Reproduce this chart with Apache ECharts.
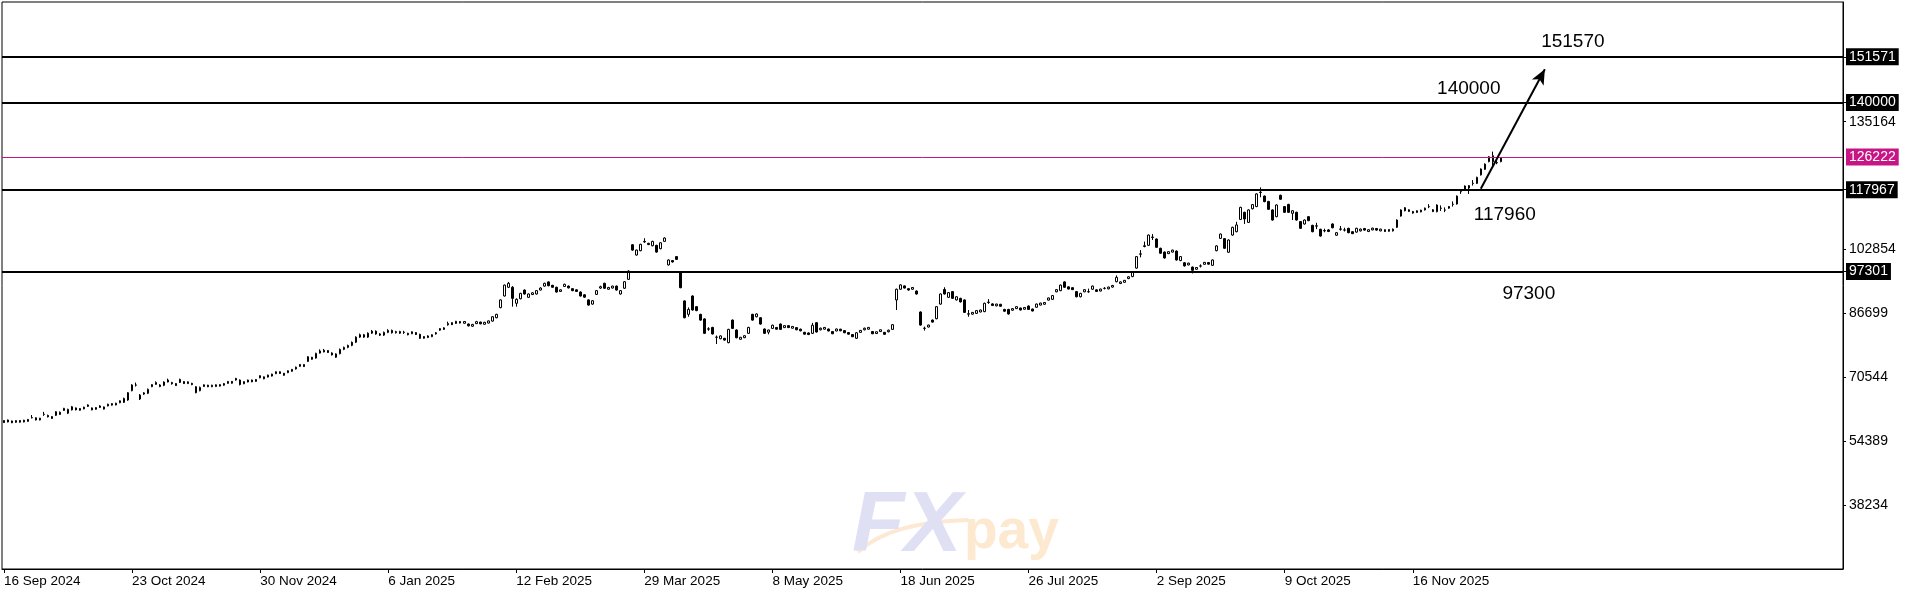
<!DOCTYPE html>
<html><head><meta charset="utf-8">
<script src="https://cdn.jsdelivr.net/npm/echarts@6/dist/echarts.min.js"></script>
<style>html,body{margin:0;padding:0;background:#fff}#c{width:1920px;height:596px}</style>
</head><body><div id="c"></div>
<script>
// ---- data ----
const tickLabels = ['16 Sep 2024','23 Oct 2024','30 Nov 2024','6 Jan 2025','12 Feb 2025','29 Mar 2025','8 May 2025','18 Jun 2025','26 Jul 2025','2 Sep 2025','9 Oct 2025','16 Nov 2025'];
const barsPerLabel = 32;
const slotCount = 460;
// [open, close, low, high]
const ohlc = [
[59600,59100,59000,59700],[59750,59250,59150,59850],[59500,59050,58950,59600],[59150,59600,59050,59700],[59600,59200,59100,59700],
[59250,59700,59150,59800],[59400,59900,59300,60000],[60300,60350,60150,61000],[60300,59750,59650,60400],[59750,60200,59650,60300],
[61150,61200,60800,61800],[60900,60550,60400,61100],[60600,60150,60050,60700],[60925,61852,60750,62000],[61150,61700,61050,61900],
[62150,62700,62050,62800],[61450,62450,61250,62600],[62300,63100,62150,63300],[62800,62300,62200,62900],[62200,62650,62100,62750],
[62550,63000,62450,63100],[63550,63200,63050,63700],[62800,62300,62200,62900],[62450,62900,62350,63000],[62900,63300,62800,63500],
[63050,62500,62400,63150],[63300,63750,63200,63850],[63500,63900,63400,64000],[63550,64000,63450,64100],[64100,64600,64000,64700],
[64200,65200,64050,65400],[64800,66650,64600,66800],[67150,68600,67000,68800],[68550,68600,68200,69200],[66050,65050,64800,66300],
[66300,66600,66100,66800],[66500,67500,66300,67700],[68150,68700,68050,68800],[68750,69250,68650,69500],[68600,68200,68050,68800],
[68500,69350,68300,69500],[69350,69850,69250,70200],[69200,68900,68700,69400],[68950,68450,68350,69050],[70000,69250,69100,70200],
[69450,68950,68850,69550],[68950,69400,68850,69500],[69000,68700,68550,69150],[68150,66650,66500,68300],[67150,68000,67000,68200],
[68200,68650,68100,68750],[68550,68150,68050,68650],[68150,68550,68050,68650],[68200,68650,68100,68750],[68300,68700,68200,68800],
[68550,68950,68400,69100],[69000,69500,68900,69600],[69500,69050,68950,69600],[70250,69850,69700,70400],[69850,68700,68500,70000],
[68900,69450,68800,69550],[69350,69850,69250,69950],[69850,69400,69300,69950],[69500,70000,69400,70100],[70400,70950,70300,71050],
[70650,70150,70050,70750],[70600,71100,70500,71200],[70850,71350,70750,71450],[71450,71950,71350,72050],[71950,71500,71400,72050],
[71550,71050,70950,71650],[71700,72200,71600,72300],[72050,72550,71950,72650],[72650,73100,72500,73250],[73300,73800,73200,73900],
[73750,73250,73150,73850],[74550,75750,74400,75900],[75600,75100,75000,75700],[75400,76600,75250,76750],[76650,77200,76550,77600],
[76950,77400,76850,77700],[77300,76800,76700,77400],[76700,76200,76050,76850],[75600,76450,75450,76600],[76500,77600,76350,77800],
[77600,78100,77400,78300],[78100,78600,77900,78800],[78600,79400,78400,79600],[79400,80700,79200,80900],[80700,81300,80500,81600],
[81300,80700,80500,81500],[80700,81700,80500,81900],[81700,82200,81500,82500],[82200,81500,81300,82400],[81500,81200,81000,81700],
[81200,81900,81000,82100],[81900,82400,81700,82700],[82400,81800,81600,82600],[81800,82100,81600,82300],[82100,81700,81500,82300],
[81850,81950,81500,82300],[81650,81300,81150,81800],[81550,82050,81450,82150],[81850,81350,81250,81950],[81400,80400,80250,81550],
[80400,80850,80300,80950],[80600,81000,80450,81150],[80800,81300,80700,81400],[81500,81800,81350,82000],[82450,82850,82300,83000],
[82650,83050,82500,83200],[83800,84150,83600,84600],[84350,83850,83750,84450],[84150,84700,84050,84800],[84650,84250,84150,84750],
[84200,84650,84100,84750],[84000,83550,83400,84150],[83450,83900,83300,84050],[84100,84600,84000,84800],[84500,84050,83950,84600],
[83950,84450,83850,84550],[84250,84800,84150,84900],[84750,85850,84600,86000],[85600,86450,85450,86600],[88150,90100,88000,90250],
[91100,93850,90950,94000],[93300,94300,93100,94650],[93300,90500,88400,93600],[89250,90250,88400,90500],[90400,91750,90250,91900],
[92600,91600,91450,92750],[90750,91600,90600,91750],[91450,91900,91350,92050],[91600,92450,91450,92600],[92600,93100,92500,93300],
[93600,94300,93450,94450],[94650,93700,93550,94800],[93800,93300,93200,93900],[93300,92100,91950,93450],[92250,92650,92100,92800],
[93500,94050,93400,94200],[93600,93150,93000,93750],[92950,92450,92300,93100],[92650,92250,92100,92800],[92100,91100,90950,92250],
[91400,90800,90650,91550],[90100,88800,88650,90250],[89050,89900,88900,90050],[91500,92450,91350,92600],[93100,93450,92900,93700],
[94300,93050,92900,94450],[92800,93250,92650,93400],[93100,93600,93000,93700],[93600,92600,92450,93750],[91600,92450,91450,92600],
[93050,94700,92900,94850],[95300,97400,95150,97600],[104050,102700,102550,104200],[101450,102700,101300,102850],[102550,104150,102400,104300],
[104750,104900,104550,105700],[104400,104100,103950,104550],[103800,104900,103650,105050],[103900,102200,102050,104050],[103050,104550,102900,104700],
[104900,105750,104750,105900],[98950,100200,98800,100350],[100050,99700,99550,100200],[101050,100350,100200,101200],[97250,93200,93050,97400],
[89850,85600,85450,90000],[86450,87700,85850,88200],[91100,87550,87400,91250],[88400,87400,87250,88550],[86450,85000,84850,86600],
[85300,81650,81500,85450],[82700,82800,82300,83200],[83150,81500,81350,83300],[80650,80700,78950,81100],[80300,81000,80150,81150],
[80400,79950,79800,80500],[79300,82650,79150,82800],[85000,82900,82750,85150],[82500,80550,80400,82650],[80150,80650,80050,80750],
[80550,81050,80450,81150],[81650,83150,81500,83300],[86450,85000,84850,86600],[85850,86550,85700,86700],[85600,84000,83850,85750],
[82750,81650,81500,82900],[81950,82500,81400,82600],[82900,83700,82750,83850],[83150,82700,82600,83250],[84000,82650,82500,84150],
[83100,83600,83000,83700],[83600,83100,83000,83700],[82950,83400,82850,83500],[83100,82550,82450,83200],[82700,82300,82150,82850],
[81900,81450,81300,82050],[81750,81350,81200,81900],[81650,83700,81500,84300],[84350,82000,81850,84500],[82550,82950,82400,83100],
[82700,83150,82600,83250],[82750,82250,82150,82850],[82100,81550,81450,82200],[82250,82750,82150,82850],[82700,82300,82200,82800],
[82350,81800,81700,82450],[81850,81450,81300,82000],[81350,80800,80700,81450],[80400,81800,80250,81950],[81900,82400,81800,82500],
[82550,82950,82400,83100],[82700,83150,82600,83250],[82100,81550,81450,82200],[81600,82050,81500,82150],[82100,82550,82000,82650],
[81900,81400,81300,82000],[82050,82450,81900,82600],[82650,83850,82500,84000],[90100,92800,87550,92950],[92800,93900,92650,94050],
[93650,93100,93000,93750],[92950,92600,92450,93100],[92800,93250,92700,93350],[92350,91600,91450,92500],[87050,83750,83600,87200],
[82900,82950,82350,83350],[83250,83750,83150,83850],[85000,84500,84350,85150],[85350,88400,85200,88550],[89050,91600,88900,91750],
[92750,91600,91450,93300],[90750,91950,90600,92100],[92200,90500,90350,92350],[90100,90900,89950,91050],[90500,89600,89450,90650],
[90100,86950,86800,90250],[86500,86600,85850,87550],[86500,86950,86400,87050],[86700,87400,86550,87550],[87050,87550,86950,87650],
[87150,89250,87000,89400],[89450,89550,89100,90300],[89100,88700,88550,89250],[88600,89050,88500,89150],[89000,88500,88400,89100],
[87700,87250,87100,87850],[87700,86550,86400,87850],[87500,87900,87350,88050],[87900,88400,87800,88500],[88050,87550,87450,88150],
[87750,88200,87650,88300],[88550,87700,87550,88700],[87800,87300,87200,87900],[88250,89050,88100,89200],[88800,89300,88700,89400],
[89000,89450,88900,89550],[90050,90600,89950,90700],[90250,91200,90100,91350],[92150,92700,92050,92850],[92450,93850,92300,94000],
[94650,93300,93150,94800],[93400,92850,92750,93500],[93200,92700,92600,93300],[92200,90900,90750,92350],[90900,91750,90750,91900],
[92150,92700,92050,92800],[92150,92200,91900,92950],[92800,93600,92650,93750],[92650,92250,92100,92800],[92350,92850,92250,92950],
[93000,93050,92750,93350],[92900,93350,92800,93450],[93350,93750,93200,93900],[94700,95800,94550,96300],[94250,94650,94100,94800],
[94550,95050,94450,95150],[95500,95950,95350,96100],[96000,97250,95850,97400],[98150,101050,98000,101200],[101650,101750,100850,102700],
[103600,103800,103400,104850],[103900,106500,103750,106650],[106000,105900,105250,106750],[105500,103400,103250,105650],[103150,101900,101750,103300],
[102200,100700,100550,102350],[101800,102300,101700,102400],[102200,102700,102100,102800],[102450,100200,100050,102600],[100050,101050,99900,101200],
[99500,98700,98550,99650],[98950,99400,98850,99500],[98400,97600,96800,98550],[97850,98300,97750,98400],[98650,98700,98300,99100],
[99100,99600,99000,99700],[99550,99150,99000,99700],[98850,100200,98700,100350],[102550,103750,102400,103900],[105650,106750,105500,106900],
[105600,103150,103000,105750],[102150,105250,102000,105400],[106500,108450,106350,108600],[107350,109050,107200,109850],[110450,113500,110300,113650],
[112250,110550,109300,112400],[109700,112850,109550,113000],[113150,114200,113000,114350],[113700,116900,113550,117050],[117250,117350,116050,118550],
[116350,114950,114800,116500],[115000,113000,112850,115150],[112850,110300,110150,113000],[111150,114100,111000,114250],[116550,115550,115400,116700],
[113700,112250,112100,113850],[114250,112250,112100,114400],[112000,112650,110300,112800],[112250,110300,110150,112400],[109900,108200,108050,110050],
[109300,110300,109150,110450],[111150,110150,110000,111300],[108950,107350,107200,109100],[108750,108850,108000,109600],[107950,106250,106100,108100],
[107550,107650,107200,108100],[107800,107400,107250,108000],[109300,108350,108200,109450],[106450,107100,106300,107250],[107950,108050,107600,108800],
[107750,107800,107400,108350],[108200,107100,106950,108350],[107350,106850,106750,107450],[107250,108200,107100,108350],[107550,108000,107400,108150],
[108150,107750,107600,108300],[107400,107850,107250,108000],[107800,108250,107700,108350],[108150,107750,107600,108300],[107550,108000,107450,108100],
[107850,107400,107300,107950],[107450,107900,107350,108000],[107550,108000,107400,108150],[108450,110300,108300,110450],[111300,112850,111150,113000],
[113400,112650,112500,113550],[112450,112900,112350,113000],[112450,112050,111900,112600],[112200,112650,112100,112750],[112350,112800,112250,112900],
[112850,113300,112700,113450],[113650,113700,113300,114300],[112900,112450,112300,113050],[112400,114100,112250,114250],[113250,113300,112600,114000],
[112800,112850,112300,113500],[113700,113300,113150,113850],[114250,114300,113700,115000],[114350,116350,114200,116500],[117450,117500,116900,118100],
[117900,118900,117750,119050],[118400,119000,116900,119150],[119550,119600,119000,120400],[119550,121100,119400,121250],[121700,123200,121550,123350],
[123100,124450,122950,124600],[125050,126300,124900,126450],[126550,125050,123950,127600],[124750,124850,124400,125300],[125050,126000,124900,126150]
];
const levelLines = [151571, 140000, 117967, 97301];
const priceLine = 126222;
const yTickValues = [38234, 54389, 70544, 86699, 102854, 135164];
const yMin = 22079, yMax = 165416;
const noteTexts = ['151570', '140000', '117960', '97300'];
const noteBars = [392, 366, 375, 381];
const noteValues = [155430, 143550, 111700, 91600];
const arrowStart = [369, 118200];
const arrowEnd = [385, 148400];

// ---- chart ----
const FONT = '"Liberation Sans", Arial, sans-serif';
const categories = Array.from({length: slotCount}, (_, i) => String(i));
const showTick = (i) => i % barsPerLabel === 0 && (i / barsPerLabel) < tickLabels.length;

const chart = echarts.init(document.getElementById('c'), null, {renderer: 'canvas'});
const boxLabel = (bg) => ({
  show: true, position: 'end', distance: 3, formatter: (p) => String(p.value),
  color: '#fff', backgroundColor: bg, padding: [2, 3, 1, 3], fontSize: 14, fontFamily: FONT
});
chart.setOption({
  animation: false,
  backgroundColor: '#fff',
  grid: {left: 2, right: 77, top: 2, bottom: 27, show: true, borderColor: '#000', borderWidth: 1, backgroundColor: '#fff'},
  xAxis: {
    type: 'category', data: categories, boundaryGap: true,
    axisLine: {show: true, lineStyle: {color: '#000', width: 1}},
    axisTick: {show: true, alignWithLabel: true, interval: (i) => showTick(i), length: 4, lineStyle: {color: '#000'}},
    axisLabel: {interval: (i) => showTick(i), formatter: (v, i) => tickLabels[i / barsPerLabel] || '',
      align: 'left', color: '#000', fontSize: 13.5, fontFamily: FONT, margin: 5},
    splitLine: {show: false}
  },
  yAxis: {
    type: 'value', position: 'right', min: yMin, max: yMax, scale: true,
    axisLine: {show: true, lineStyle: {color: '#000'}},
    axisTick: {show: true, customValues: yTickValues.concat(levelLines), length: 3, lineStyle: {color: '#000'}},
    axisLabel: {customValues: yTickValues, formatter: (v) => String(v), color: '#000', fontSize: 14, fontFamily: FONT, margin: 6},
    splitLine: {show: false}
  },
  graphic: [
    {type: 'bezierCurve', z: 1, silent: true,
     shape: {x1: 858, y1: 552, cpx1: 890, cpy1: 522, x2: 968, y2: 520},
     style: {stroke: '#fde9d3', lineWidth: 4, fill: null}},
    {type: 'text', left: 852, top: 484, z: 1, silent: true,
     style: {text: 'FX', font: 'italic bold 86px "Liberation Sans", Arial, sans-serif', fill: '#dfe0f3'}},
    {type: 'text', left: 964, top: 505, z: 1, silent: true,
     style: {text: 'pay', font: 'bold 55px "Liberation Sans", Arial, sans-serif', fill: '#fde8d0'}}
  ],
  series: [{
    type: 'candlestick', data: ohlc, barWidth: 2,
    itemStyle: {color: '#fff', color0: '#000', borderColor: '#000', borderColor0: '#000', borderWidth: 1},
    markLine: {
      silent: true, symbol: ['none', 'none'], animation: false,
      data: levelLines.map(v => ({yAxis: v, lineStyle: {color: '#000', width: 2, type: 'solid'}, label: boxLabel('#000')}))
        .concat([{yAxis: priceLine, lineStyle: {color: '#C71585', width: 1, type: 'solid'}, label: boxLabel('#C71585')}])
        .concat([[{coord: arrowStart, symbol: 'none'}, {coord: arrowEnd, symbol: 'arrow', symbolSize: [10, 15]}]].map(pair => {
          pair[0].lineStyle = {color: '#000', width: 2, type: 'solid'};
          pair[0].label = {show: false};
          return pair;
        })),
    },
    markPoint: {
      silent: true, symbol: 'circle', symbolSize: 1, itemStyle: {color: 'rgba(0,0,0,0)'},
      data: noteTexts.map((t, k) => ({coord: [noteBars[k], noteValues[k]], value: t,
        label: {show: true, position: 'inside', formatter: t, color: '#000', fontSize: 19, fontFamily: FONT}}))
    }
  }]
});
</script></body></html>
